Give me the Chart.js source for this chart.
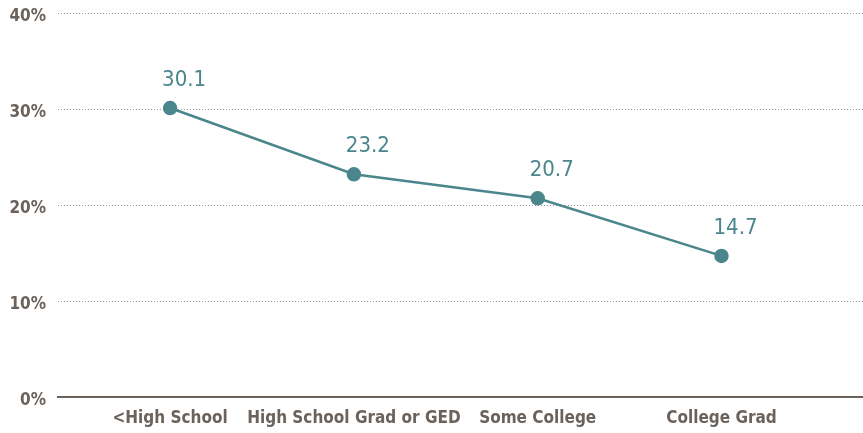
<!DOCTYPE html>
<html>
<head>
<meta charset="utf-8">
<script src="https://cdn.jsdelivr.net/npm/chart.js@4"></script>
<style>
  html, body { margin: 0; padding: 0; background: #fff; }
  #wrap { width: 863px; height: 433px; position: relative; }
</style>
</head>
<body>
<div id="wrap"><canvas id="chart"></canvas></div>
<script>
const categories = ['<High School', 'High School Grad or GED', 'Some College', 'College Grad'];
const rates = [30.1, 23.2, 20.7, 14.7];
const yTicks = [0, 10, 20, 30, 40];

const FONT = '"DejaVu Sans Condensed", "Liberation Sans", Arial, sans-serif';
const TEAL = '#4a868b';
const GREY = '#6b625b';

// value labels above each point
const valueLabels = {
  id: 'valueLabels',
  afterDatasetsDraw(chart) {
    const ctx = chart.ctx;
    const meta = chart.getDatasetMeta(0);
    ctx.save();
    ctx.font = '22px ' + FONT;
    ctx.fillStyle = TEAL;
    ctx.textAlign = 'center';
    ctx.textBaseline = 'middle';
    meta.data.forEach((pt, i) => {
      ctx.fillText(rates[i].toFixed(1), pt.x + 14, pt.y - 28);
    });
    ctx.restore();
  }
};

new Chart(document.getElementById('chart'), {
  type: 'line',
  data: {
    datasets: [{
      data: rates.map((v, i) => ({ x: i, y: v })),
      borderColor: TEAL,
      backgroundColor: TEAL,
      borderWidth: 2.5,
      pointRadius: 6,
      pointHoverRadius: 6,
      tension: 0
    }]
  },
  options: {
    responsive: true,
    maintainAspectRatio: false,
    animation: false,
    layout: { autoPadding: false, padding: { top: 13, right: 0, left: 0, bottom: 0 } },
    plugins: { legend: { display: false }, tooltip: { enabled: false } },
    scales: {
      x: {
        type: 'linear',
        min: -0.61,
        max: 3.77,
        afterBuildTicks: s => { s.ticks = categories.map((c, i) => ({ value: i })); },
        afterFit: s => { s.height = 36; s.paddingLeft = 0; s.paddingRight = 0; },
        grid: { display: false, drawTicks: false },
        border: { display: true, color: GREY, width: 2 },
        ticks: {
          callback: v => categories[v],
          color: GREY,
          font: { family: FONT, size: 17, weight: 'bold' },
          padding: 11,
          maxRotation: 0,
          autoSkip: false
        }
      },
      y: {
        min: 0,
        max: 40,
        afterBuildTicks: s => { s.ticks = yTicks.map(v => ({ value: v })); },
        afterFit: s => { s.width = 58; s.paddingTop = 0; s.paddingBottom = 0; },
        border: { display: false, dash: [1, 2] },
        grid: {
          color: c => c.tick.value === 0 ? 'rgba(0,0,0,0)' : '#9a9a9a',
          lineWidth: 1,
          drawTicks: false
        },
        ticks: {
          callback: v => v + '%',
          color: GREY,
          font: { family: FONT, size: 17, weight: 'bold' },
          padding: 12,
          labelOffset: 4
        }
      }
    }
  },
  plugins: [valueLabels]
});
</script>
</body>
</html>
